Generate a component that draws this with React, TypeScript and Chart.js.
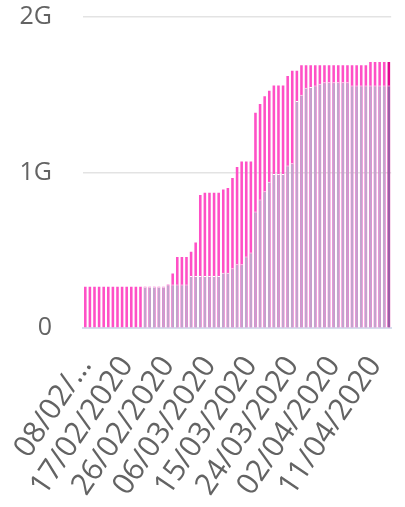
import React, { useEffect, useRef } from 'react';
import { Chart, registerables } from 'chart.js';

Chart.register(...registerables);

// Categories: one bar per day
const dates = [
  '08/02/2020', '09/02/2020', '10/02/2020', '11/02/2020', '12/02/2020', '13/02/2020', '14/02/2020',
  '15/02/2020', '16/02/2020', '17/02/2020', '18/02/2020', '19/02/2020', '20/02/2020', '21/02/2020',
  '22/02/2020', '23/02/2020', '24/02/2020', '25/02/2020', '26/02/2020', '27/02/2020', '28/02/2020',
  '29/02/2020', '01/03/2020', '02/03/2020', '03/03/2020', '04/03/2020', '05/03/2020', '06/03/2020',
  '07/03/2020', '08/03/2020', '09/03/2020', '10/03/2020', '11/03/2020', '12/03/2020', '13/03/2020',
  '14/03/2020', '15/03/2020', '16/03/2020', '17/03/2020', '18/03/2020', '19/03/2020', '20/03/2020',
  '21/03/2020', '22/03/2020', '23/03/2020', '24/03/2020', '25/03/2020', '26/03/2020', '27/03/2020',
  '28/03/2020', '29/03/2020', '30/03/2020', '31/03/2020', '01/04/2020', '02/04/2020', '03/04/2020',
  '04/04/2020', '05/04/2020', '06/04/2020', '07/04/2020', '08/04/2020', '09/04/2020', '10/04/2020',
  '11/04/2020', '12/04/2020', '13/04/2020', '14/04/2020',
];

// Purple series (G)
const usedG = [
  0, 0, 0, 0, 0, 0, 0, 0, 0, 0, 0, 0, 0,
  0.265, 0.265, 0.265, 0.265, 0.265,
  0.28, 0.28, 0.28, 0.28, 0.28,
  0.335, 0.335, 0.335, 0.335, 0.335, 0.335, 0.335,
  0.355, 0.355, 0.385, 0.41, 0.41, 0.46, 0.486,
  0.75, 0.826, 0.88, 0.94, 0.99, 0.99, 0.99,
  1.045, 1.06, 1.46, 1.5, 1.545, 1.55, 1.56, 1.57,
  1.58, 1.58, 1.58, 1.58, 1.58, 1.58,
  1.56, 1.56, 1.56, 1.56, 1.56, 1.56, 1.56, 1.56, 1.56,
];

// Pink series (G)
const totalG = [
  0.265, 0.265, 0.265, 0.265, 0.265, 0.265, 0.265, 0.265, 0.265, 0.265, 0.265, 0.265, 0.265,
  0.265, 0.265, 0.265, 0.265, 0.265,
  0.28, 0.35, 0.456, 0.456, 0.456,
  0.49, 0.55, 0.855, 0.87, 0.87, 0.87, 0.87,
  0.89, 0.9, 0.965, 1.035, 1.07, 1.07, 1.07,
  1.385, 1.44, 1.49, 1.525, 1.56, 1.56, 1.56,
  1.62, 1.655, 1.655, 1.69, 1.69, 1.69, 1.69, 1.69,
  1.69, 1.69, 1.69, 1.69, 1.69, 1.69,
  1.69, 1.69, 1.69, 1.69, 1.71, 1.71, 1.71, 1.71, 1.71,
];

const yTickValues = [0, 1, 2];
const firstTickLabel = '08/02/…';
const labelEvery = 9;

export default function App() {
  const ref = useRef<HTMLCanvasElement | null>(null);

  useEffect(() => {
    if (!ref.current) return;
    const last = dates.length - 1;
    const yFont = { family: '"Open Sans", "Noto Sans", sans-serif', size: 25 };
    const xFont = { family: '"Open Sans", "Noto Sans", sans-serif', size: 30 };
    const chart = new Chart(ref.current, {
      type: 'bar',
      data: {
        labels: dates,
        datasets: [
          {
            label: 'used',
            data: usedG,
            grouped: false,
            backgroundColor: (c: any) => (c.dataIndex === last ? '#9b5ca7' : '#c3a3cd'),
            borderColor: '#ffffff',
            borderWidth: { top: 1, left: 0, right: 0, bottom: 0 },
            borderSkipped: false,
            barPercentage: 0.56,
            categoryPercentage: 1,
          },
          {
            label: 'total',
            data: totalG,
            grouped: false,
            backgroundColor: (c: any) => (c.dataIndex === last ? '#e0088f' : '#ff50c6'),
            borderWidth: 0,
            barPercentage: 0.56,
            categoryPercentage: 1,
          },
        ] as any,
      },
      options: {
        animation: false,
        responsive: true,
        maintainAspectRatio: false,
        layout: { padding: { top: 17, right: 2, left: 0, bottom: 0 } },
        plugins: { legend: { display: false }, tooltip: { enabled: false } },
        scales: {
          x: {
            grid: {
              display: true,
              drawOnChartArea: false,
              drawTicks: true,
              tickLength: 22,
              color: 'rgba(0,0,0,0)',
              tickColor: 'rgba(0,0,0,0)',
            },
            border: { display: true, color: '#d6ddec', width: 2 },
            ticks: {
              autoSkip: false,
              minRotation: 56,
              maxRotation: 56,
              padding: 0,
              color: '#636363',
              font: xFont,
              callback: (_v: any, i: number) =>
                i % labelEvery !== 0 ? null : i === 0 ? firstTickLabel : dates[i],
            },
            afterFit: (s: any) => {
              s.height = 179;
            },
          },
          y: {
            min: 0,
            max: 2,
            afterBuildTicks: (s: any) => {
              s.ticks = yTickValues.map((v) => ({ value: v }));
            },
            grid: {
              color: (c: any) => (c.tick && c.tick.value === 0 ? 'rgba(0,0,0,0)' : '#e3e3e3'),
              lineWidth: 1.5,
              drawTicks: true,
              tickLength: 31,
              tickColor: 'rgba(0,0,0,0)',
            },
            border: { display: false },
            ticks: {
              padding: 0,
              color: '#636363',
              font: yFont,
              callback: (v: any) => (v === 0 ? '0' : v + 'G'),
            },
            afterFit: (s: any) => {
              s.width = 83;
            },
          },
        },
      },
    });
    return () => chart.destroy();
  }, []);

  return (
    <div style={{ position: 'fixed', left: 0, top: 0, width: 405, height: 507, background: '#fff' }}>
      <canvas ref={ref} />
    </div>
  );
}
